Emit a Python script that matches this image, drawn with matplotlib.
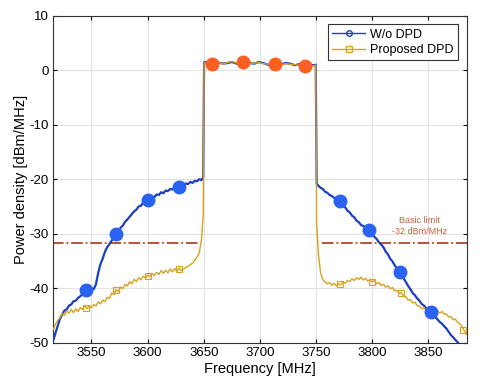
import matplotlib
matplotlib.use('Agg')
import matplotlib.pyplot as plt
from matplotlib.lines import Line2D
import numpy as np

plt.rcParams['font.family'] = ['Liberation Sans', 'DejaVu Sans']
plt.rcParams['axes.unicode_minus'] = False

# ---- data ----
# out-of-band sample grids
f_left = np.arange(3516, 3649, 2)
f_right = np.arange(3752, 3885, 2)

wo_left = [-49.6, -48.2, -46.9, -45.6, -44.8, -44.1, -43.9, -43.2, -43.0, -42.4,
           -42.3, -41.8, -41.5, -41.1, -40.9, -40.5, -40.4, -40.1, -40.2, -39.3,
           -37.2, -35.6, -34.6, -33.3, -32.5, -31.9, -31.3, -30.7, -30.1, -29.6,
           -28.9, -28.5, -27.8, -27.4, -26.9, -26.4, -25.9, -25.6, -25.0, -24.9,
           -24.3, -24.2, -23.8, -23.7, -23.2, -23.3, -22.8, -22.9, -22.4, -22.6,
           -22.1, -22.2, -21.8, -21.9, -21.5, -21.7, -21.3, -21.1, -21.2, -20.8,
           -20.9, -20.5, -20.7, -20.3, -20.4, -20.0, -20.2]
wo_right = [-21.2, -21.6, -21.8, -22.3, -22.5, -22.9, -23.1, -23.4, -23.8, -24.0,
            -24.4, -24.9, -25.2, -25.8, -26.1, -26.7, -27.0, -27.6, -27.9, -28.4,
            -28.6, -29.0, -29.2, -29.7, -30.1, -30.6, -31.0, -31.6, -32.0, -32.5,
            -33.3, -33.8, -34.6, -35.1, -35.8, -36.4, -37.0, -37.6, -38.2, -38.9,
            -39.6, -40.2, -40.9, -41.3, -41.9, -42.3, -42.9, -43.2, -43.7, -44.0,
            -44.3, -44.8, -45.3, -45.7, -46.2, -46.5, -47.0, -47.4, -48.0, -48.6,
            -49.0, -49.5, -49.9, -50.5, -51.0, -51.6, -52.0]

pd_left = [-47.6, -46.6, -45.9, -45.4, -44.6, -45.0, -44.2, -44.6, -43.9, -44.5,
           -43.8, -44.3, -43.6, -43.9, -43.3, -43.8, -43.2, -43.6, -43.0, -43.3,
           -42.5, -42.9, -42.2, -42.5, -41.7, -41.9, -40.9, -41.2, -40.3, -40.6,
           -39.8, -40.1, -39.3, -39.6, -38.8, -39.2, -38.4, -38.8, -38.1, -38.5,
           -37.8, -38.2, -37.6, -37.9, -37.3, -37.7, -37.1, -37.5, -36.8, -37.3,
           -36.7, -37.2, -36.5, -37.0, -36.4, -36.9, -36.3, -36.8, -36.5, -36.2,
           -36.0, -35.7, -35.4, -34.9, -34.3, -33.5, -31.0]
pd_right = [-33.5, -37.2, -38.4, -38.9, -39.2, -39.0, -39.5, -39.1, -39.6, -39.2,
            -39.4, -38.9, -39.1, -38.6, -38.8, -38.3, -38.6, -38.1, -38.4, -38.0,
            -38.5, -38.2, -38.7, -38.4, -38.9, -38.6, -39.2, -39.0, -39.5, -39.3,
            -39.8, -39.6, -40.1, -39.9, -40.5, -40.4, -41.0, -40.8, -41.5, -41.6,
            -42.2, -42.1, -42.7, -42.6, -43.2, -43.3, -43.8, -43.6, -44.1, -43.9,
            -44.4, -44.0, -44.5, -44.1, -44.6, -44.3, -44.8, -44.7, -45.3, -45.2,
            -45.8, -45.7, -46.3, -46.5, -47.2, -47.8, -48.5]

# in-band samples
f_band = np.arange(3651, 3750, 4)
wo_band = [1.5, 1.3, 1.1, 1.4, 1.2, 1.3, 1.5, 1.2, 1.4, 1.1, 1.3, 1.2, 1.5,
           1.3, 1.0, 1.2, 1.4, 1.1, 1.3, 1.2, 0.9, 1.1, 1.0, 1.2, 0.9]
pd_band = [1.4, 1.2, 1.3, 1.5, 1.1, 1.4, 1.6, 1.3, 1.2, 1.4, 1.2, 1.3, 1.4,
           1.2, 1.1, 1.3, 1.2, 1.0, 1.2, 1.1, 1.0, 0.9, 1.1, 1.0, 0.8]

# band edges (steep transitions)
wo_edge_f = [3649.5, 3650.3, 3749.7, 3750.5]
wo_edge_v = [-19.6, 1.4, 1.0, -20.8]
pd_edge_f = [3649.5, 3650.3, 3749.7, 3750.5]
pd_edge_v = [-26.5, 1.3, 0.9, -28.0]

# highlighted points
wo_hl_f = [3545, 3572, 3600, 3628, 3771, 3797, 3825, 3852]
wo_hl_v = [-40.4, -30.1, -23.8, -21.4, -24.1, -29.3, -37.1, -44.3]
pd_hl_f = [3657.5, 3685, 3713, 3740]
pd_hl_v = [1.2, 1.5, 1.2, 0.8]

# small square markers on proposed DPD curve
pd_mk_f = [3545, 3572, 3600, 3628, 3771, 3800, 3826, 3852, 3881]
pd_mk_v = [-43.6, -40.4, -37.7, -36.4, -39.3, -38.8, -40.9, -44.3, -47.6]

limit = -31.7
limit_segs = [(3515, 3647), (3755, 3885)]

f_wo = np.concatenate([f_left, wo_edge_f[:2], f_band, wo_edge_f[2:], f_right])
v_wo = np.concatenate([wo_left, wo_edge_v[:2], wo_band, wo_edge_v[2:], wo_right])
f_pd = np.concatenate([f_left, pd_edge_f[:2], f_band, pd_edge_f[2:], f_right])
v_pd = np.concatenate([pd_left, pd_edge_v[:2], pd_band, pd_edge_v[2:], pd_right])

c_wo = '#1b3fc0'
c_pd = '#d9a21e'

fig = plt.figure(figsize=(4.8, 3.92), dpi=100)
ax = fig.add_axes([0.111, 0.126, 0.861, 0.834])

ax.plot(f_wo, v_wo, color=c_wo, lw=1.6, zorder=3)
ax.plot(f_pd, v_pd, color=c_pd, lw=1.0, zorder=4)
ax.plot(pd_mk_f, pd_mk_v, ls='none', marker='s', ms=4, mfc='none',
        mec=c_pd, mew=0.8, zorder=4)

for x0, x1 in limit_segs:
    ax.plot([x0, x1], [limit, limit], color='#b0452a', lw=1.3, ls='-.', zorder=2)

ax.plot(wo_hl_f, wo_hl_v, ls='none', marker='o', ms=9, color='#2a62f2', zorder=5)
ax.plot(pd_hl_f, pd_hl_v, ls='none', marker='o', ms=9, color='#fb5f22', zorder=5)

ax.text(3842, -28.6, 'Basic limit\n-32 dBm/MHz', color='#c8603a', fontsize=6.5,
        ha='center', va='center', linespacing=1.3)

ax.set_xlim(3516, 3884)
ax.set_ylim(-50, 10)
ax.set_xticks([3550, 3600, 3650, 3700, 3750, 3800, 3850])
ax.set_yticks([-50, -40, -30, -20, -10, 0, 10])
ax.grid(True, color='#e2e2e2', lw=0.8)
ax.set_axisbelow(True)
ax.tick_params(direction='in', length=3, top=True, right=True, labelsize=9.5)
for s in ax.spines.values():
    s.set_color('#333333')
    s.set_linewidth(0.8)

ax.set_xlabel('Frequency [MHz]', fontsize=10.5, labelpad=2)
ax.set_ylabel('Power density [dBm/MHz]', fontsize=10.5, labelpad=1)

handles = [Line2D([], [], color=c_wo, lw=1.0, marker='o', ms=4, mfc='none'),
           Line2D([], [], color=c_pd, lw=1.0, marker='s', ms=4, mfc='none')]
leg = ax.legend(handles, ['W/o DPD', 'Proposed DPD'], loc='upper right',
                fontsize=9, fancybox=False, framealpha=1, borderpad=0.35,
                handlelength=2.6, labelspacing=0.25, handletextpad=0.4,
                borderaxespad=0.7)
leg.get_frame().set_edgecolor('#333333')
leg.get_frame().set_linewidth(0.8)

fig.savefig('out.png', dpi=100)
